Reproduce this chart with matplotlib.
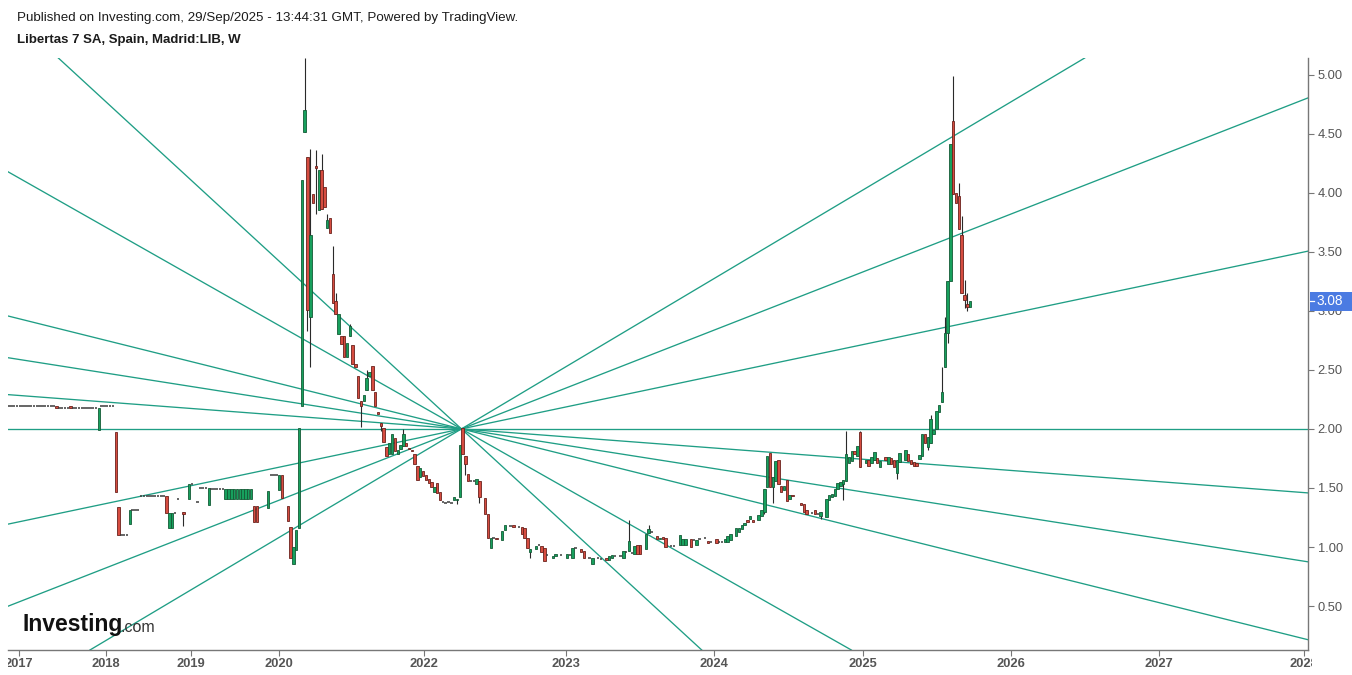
import matplotlib
matplotlib.use("Agg")
import matplotlib.pyplot as plt
from matplotlib.transforms import Bbox, blended_transform_factory
from matplotlib.patches import Rectangle

# ---------------- data (weekly bars, x = bar index as on the TradingView axis) ----------------
# (bar index, open, high, low, close)
candles_2017_2019 = [
    (0, 2.197, 2.197, 2.197, 2.197), (1, 2.197, 2.197, 2.197, 2.197), (2, 2.197, 2.197, 2.197, 2.197),
    (3, 2.197, 2.197, 2.197, 2.197), (4, 2.197, 2.197, 2.197, 2.197), (5, 2.197, 2.197, 2.197, 2.197),
    (6, 2.197, 2.197, 2.197, 2.197), (7, 2.197, 2.197, 2.197, 2.197), (8, 2.197, 2.197, 2.197, 2.197),
    (9, 2.197, 2.197, 2.197, 2.197), (10, 2.197, 2.197, 2.197, 2.197), (11, 2.197, 2.197, 2.197, 2.197),
    (12, 2.197, 2.197, 2.197, 2.197), (13, 2.197, 2.197, 2.197, 2.197), (14, 2.197, 2.197, 2.197, 2.197),
    (15, 2.197, 2.197, 2.197, 2.197), (16, 2.197, 2.197, 2.197, 2.197), (17, 2.197, 2.197, 2.18, 2.18),
    (18, 2.18, 2.18, 2.18, 2.18), (19, 2.18, 2.18, 2.18, 2.18), (20, 2.18, 2.18, 2.18, 2.18),
    (21, 2.18, 2.18, 2.18, 2.18), (22, 2.197, 2.197, 2.18, 2.18), (23, 2.18, 2.18, 2.18, 2.18),
    (24, 2.18, 2.18, 2.18, 2.18), (25, 2.18, 2.18, 2.18, 2.18), (26, 2.18, 2.18, 2.18, 2.18),
    (27, 2.18, 2.18, 2.18, 2.18), (28, 2.18, 2.18, 2.18, 2.18), (29, 2.18, 2.18, 2.18, 2.18),
    (30, 2.18, 2.18, 2.18, 2.18), (31, 2.18, 2.18, 2.18, 2.18), (32, 1.99, 2.18, 1.99, 2.18),
    (33, 2.197, 2.197, 2.197, 2.197), (34, 2.197, 2.197, 2.197, 2.197), (35, 2.197, 2.197, 2.197, 2.197),
    (36, 2.197, 2.197, 2.197, 2.197), (37, 2.197, 2.197, 2.197, 2.197), (38, 1.975, 1.975, 1.47, 1.47),
    (39, 1.34, 1.34, 1.10, 1.10), (40, 1.10, 1.10, 1.10, 1.10), (41, 1.10, 1.10, 1.10, 1.10),
    (42, 1.10, 1.10, 1.10, 1.10), (43, 1.195, 1.31, 1.195, 1.31), (44, 1.31, 1.31, 1.31, 1.31),
    (45, 1.31, 1.31, 1.31, 1.31), (46, 1.31, 1.31, 1.31, 1.31), (47, 1.43, 1.43, 1.43, 1.43),
    (48, 1.43, 1.43, 1.43, 1.43), (49, 1.43, 1.43, 1.43, 1.43), (50, 1.43, 1.43, 1.43, 1.43),
    (51, 1.43, 1.43, 1.43, 1.43), (52, 1.43, 1.43, 1.43, 1.43), (53, 1.43, 1.43, 1.43, 1.43),
    (54, 1.43, 1.43, 1.43, 1.43), (55, 1.43, 1.43, 1.43, 1.43), (56, 1.43, 1.43, 1.29, 1.29),
    (57, 1.16, 1.29, 1.16, 1.29), (58, 1.16, 1.29, 1.16, 1.29), (59, 1.29, 1.29, 1.29, 1.29),
    (60, 1.41, 1.41, 1.41, 1.41), (62, 1.295, 1.295, 1.18, 1.28), (64, 1.41, 1.53, 1.41, 1.53),
    (65, 1.53, 1.53, 1.53, 1.53), (67, 1.385, 1.385, 1.385, 1.385), (68, 1.50, 1.50, 1.50, 1.50),
    (69, 1.50, 1.50, 1.50, 1.50), (70, 1.50, 1.50, 1.50, 1.50), (71, 1.355, 1.50, 1.355, 1.50),
    (72, 1.49, 1.49, 1.49, 1.49), (73, 1.49, 1.49, 1.49, 1.49), (74, 1.49, 1.49, 1.49, 1.49),
    (75, 1.49, 1.49, 1.49, 1.49), (76, 1.49, 1.49, 1.49, 1.49), (77, 1.41, 1.49, 1.41, 1.49),
    (78, 1.41, 1.49, 1.41, 1.49), (79, 1.41, 1.49, 1.41, 1.49), (80, 1.41, 1.49, 1.41, 1.49),
    (81, 1.41, 1.49, 1.41, 1.49), (82, 1.41, 1.49, 1.41, 1.49), (83, 1.41, 1.49, 1.41, 1.49),
    (84, 1.41, 1.49, 1.41, 1.49), (85, 1.41, 1.49, 1.41, 1.49), (86, 1.41, 1.49, 1.41, 1.49),
    (87, 1.35, 1.35, 1.215, 1.215), (88, 1.35, 1.35, 1.215, 1.215), (92, 1.33, 1.475, 1.33, 1.475),
    (93, 1.61, 1.61, 1.61, 1.61), (94, 1.61, 1.61, 1.61, 1.61), (95, 1.61, 1.61, 1.61, 1.61),
    (96, 1.48, 1.61, 1.48, 1.61), (97, 1.61, 1.61, 1.415, 1.415), (99, 1.35, 1.35, 1.22, 1.22),
]

candles_2020_2021 = [
    (100, 1.17, 1.17, 0.91, 0.91), (101, 0.86, 1.00, 0.86, 1.00), (102, 0.975, 1.14, 0.975, 1.14),
    (103, 1.16, 2.01, 1.16, 2.01), (104, 2.19, 4.11, 2.19, 4.11), (105, 4.51, 5.14, 4.51, 4.70),
    (106, 4.30, 4.30, 2.83, 3.01), (107, 2.95, 4.37, 2.52, 3.64), (108, 3.99, 3.99, 3.91, 3.91),
    (109, 4.23, 4.36, 3.82, 4.21), (110, 3.85, 4.19, 3.85, 4.19), (111, 4.19, 4.33, 3.86, 3.86),
    (112, 4.05, 4.05, 3.88, 3.88), (113, 3.70, 3.82, 3.70, 3.77), (114, 3.79, 3.79, 3.66, 3.66),
    (115, 3.31, 3.55, 3.07, 3.07), (116, 3.08, 3.15, 2.97, 2.97), (117, 2.80, 2.97, 2.80, 2.97),
    (118, 2.79, 2.79, 2.72, 2.72), (119, 2.79, 2.79, 2.61, 2.61), (120, 2.61, 2.73, 2.61, 2.73),
    (121, 2.79, 2.89, 2.79, 2.87), (122, 2.71, 2.71, 2.55, 2.55), (123, 2.55, 2.55, 2.52, 2.52),
    (124, 2.45, 2.45, 2.26, 2.26), (125, 2.24, 2.24, 2.02, 2.19), (126, 2.24, 2.29, 2.24, 2.29),
    (127, 2.33, 2.50, 2.33, 2.43), (128, 2.45, 2.48, 2.45, 2.48), (129, 2.53, 2.53, 2.33, 2.33),
    (130, 2.31, 2.31, 2.19, 2.19), (131, 2.14, 2.14, 2.13, 2.13), (132, 2.05, 2.05, 1.98, 2.025),
    (133, 2.01, 2.01, 1.89, 1.89), (134, 1.85, 1.85, 1.77, 1.77), (135, 1.79, 1.88, 1.79, 1.88),
    (136, 1.79, 1.96, 1.79, 1.96), (137, 1.92, 1.92, 1.81, 1.81), (138, 1.79, 1.82, 1.79, 1.82),
    (139, 1.83, 1.86, 1.83, 1.86), (140, 1.855, 2.00, 1.855, 1.96), (141, 1.88, 1.88, 1.855, 1.855),
    (142, 1.84, 1.84, 1.83, 1.83), (143, 1.82, 1.82, 1.81, 1.81), (144, 1.79, 1.79, 1.70, 1.70),
    (145, 1.69, 1.69, 1.57, 1.57), (146, 1.59, 1.67, 1.59, 1.67), (147, 1.64, 1.64, 1.60, 1.60),
    (148, 1.61, 1.61, 1.57, 1.57), (149, 1.58, 1.58, 1.54, 1.54), (150, 1.55, 1.55, 1.51, 1.51),
    (151, 1.47, 1.51, 1.47, 1.51), (152, 1.54, 1.54, 1.46, 1.46), (153, 1.47, 1.47, 1.40, 1.40),
    (154, 1.38, 1.38, 1.38, 1.38), (155, 1.37, 1.37, 1.37, 1.37), (156, 1.38, 1.38, 1.38, 1.38),
    (157, 1.37, 1.37, 1.37, 1.37), (158, 1.40, 1.42, 1.40, 1.42), (159, 1.40, 1.41, 1.36, 1.41),
    (160, 1.42, 1.86, 1.42, 1.86), (161, 2.01, 2.01, 1.79, 1.79),
]

candles_2022_2025 = [
    (162, 1.77, 1.77, 1.61, 1.70), (163, 1.62, 1.62, 1.56, 1.56), (164, 1.56, 1.56, 1.56, 1.56),
    (165, 1.56, 1.56, 1.56, 1.56), (166, 1.53, 1.575, 1.53, 1.575), (167, 1.56, 1.56, 1.37, 1.425),
    (169, 1.415, 1.415, 1.28, 1.28), (170, 1.28, 1.28, 1.08, 1.08), (171, 0.99, 1.08, 0.99, 1.08),
    (172, 1.08, 1.08, 1.08, 1.08), (173, 1.08, 1.08, 1.07, 1.07), (175, 1.06, 1.135, 1.06, 1.135),
    (176, 1.145, 1.19, 1.145, 1.19), (178, 1.18, 1.18, 1.18, 1.18), (179, 1.185, 1.185, 1.17, 1.17),
    (181, 1.17, 1.17, 1.17, 1.17), (182, 1.17, 1.17, 1.11, 1.11), (183, 1.16, 1.16, 1.08, 1.08),
    (184, 1.08, 1.08, 0.99, 0.99), (185, 0.96, 0.98, 0.91, 0.98), (187, 0.98, 1.01, 0.98, 1.01),
    (188, 1.02, 1.02, 1.02, 1.02), (189, 1.01, 1.01, 0.96, 0.96), (190, 0.99, 0.99, 0.88, 0.88),
    (191, 0.93, 0.93, 0.93, 0.93), (193, 0.905, 0.92, 0.905, 0.92), (194, 0.92, 0.94, 0.92, 0.94),
    (196, 0.93, 0.93, 0.93, 0.93), (198, 0.91, 0.945, 0.91, 0.945), (199, 0.93, 0.93, 0.93, 0.93),
    (200, 0.91, 0.99, 0.91, 0.99), (201, 0.99, 0.99, 0.99, 0.99), (203, 0.98, 0.98, 0.96, 0.96),
    (204, 0.965, 0.965, 0.91, 0.91), (206, 0.91, 0.91, 0.91, 0.91), (207, 0.86, 0.91, 0.86, 0.91),
    (209, 0.905, 0.905, 0.905, 0.905), (210, 0.90, 0.90, 0.90, 0.90), (212, 0.905, 0.905, 0.89, 0.89),
    (213, 0.89, 0.92, 0.89, 0.92), (214, 0.91, 0.93, 0.91, 0.93), (215, 0.92, 0.92, 0.92, 0.92),
    (217, 0.92, 0.92, 0.92, 0.92), (218, 0.91, 0.965, 0.91, 0.965), (219, 0.96, 0.96, 0.96, 0.96),
    (220, 0.965, 1.23, 0.965, 1.05), (221, 0.95, 0.95, 0.95, 0.95), (222, 0.94, 1.01, 0.94, 1.01),
    (223, 1.02, 1.02, 0.94, 0.94), (224, 1.02, 1.02, 0.94, 0.94), (226, 0.98, 1.11, 0.98, 1.11),
    (227, 1.12, 1.19, 1.12, 1.15), (228, 1.13, 1.13, 1.13, 1.13), (230, 1.09, 1.09, 1.07, 1.07),
    (231, 1.065, 1.075, 1.065, 1.075), (232, 1.085, 1.085, 1.07, 1.07), (233, 1.075, 1.075, 1.00, 1.00),
    (235, 1.01, 1.01, 1.01, 1.01), (236, 1.01, 1.01, 1.01, 1.01), (238, 1.02, 1.10, 1.02, 1.10),
    (239, 1.02, 1.07, 1.02, 1.07), (240, 1.02, 1.065, 1.02, 1.065), (242, 1.065, 1.065, 1.00, 1.00),
    (243, 1.06, 1.06, 1.06, 1.06), (244, 1.02, 1.06, 1.02, 1.06), (245, 1.07, 1.07, 1.07, 1.07),
    (247, 1.075, 1.075, 1.075, 1.075), (248, 1.05, 1.05, 1.03, 1.03), (249, 1.04, 1.04, 1.04, 1.04),
    (251, 1.07, 1.07, 1.03, 1.03), (252, 1.04, 1.04, 1.04, 1.04), (253, 1.04, 1.04, 1.04, 1.04),
    (254, 1.04, 1.07, 1.04, 1.07), (255, 1.04, 1.095, 1.04, 1.095), (256, 1.06, 1.11, 1.06, 1.11),
    (258, 1.095, 1.16, 1.095, 1.16), (259, 1.13, 1.165, 1.13, 1.165), (260, 1.15, 1.185, 1.15, 1.185),
    (261, 1.19, 1.20, 1.19, 1.20), (262, 1.225, 1.225, 1.215, 1.215), (263, 1.24, 1.26, 1.24, 1.26),
    (264, 1.225, 1.225, 1.215, 1.215), (266, 1.23, 1.27, 1.23, 1.27), (267, 1.26, 1.31, 1.26, 1.31),
    (268, 1.30, 1.49, 1.28, 1.49), (269, 1.51, 1.77, 1.51, 1.77), (270, 1.80, 1.80, 1.51, 1.51),
    (271, 1.51, 1.59, 1.37, 1.59), (272, 1.56, 1.73, 1.56, 1.73), (273, 1.74, 1.74, 1.53, 1.53),
    (274, 1.52, 1.52, 1.47, 1.47), (275, 1.48, 1.52, 1.48, 1.52), (276, 1.57, 1.57, 1.39, 1.39),
    (277, 1.41, 1.44, 1.41, 1.44), (278, 1.44, 1.44, 1.43, 1.43), (281, 1.37, 1.37, 1.355, 1.355),
    (282, 1.365, 1.365, 1.30, 1.30), (283, 1.31, 1.31, 1.28, 1.28), (285, 1.29, 1.29, 1.29, 1.29),
    (286, 1.31, 1.31, 1.28, 1.28), (287, 1.28, 1.28, 1.28, 1.28), (288, 1.26, 1.30, 1.235, 1.30),
    (290, 1.25, 1.41, 1.25, 1.41), (291, 1.40, 1.44, 1.40, 1.44), (292, 1.42, 1.45, 1.42, 1.45),
    (293, 1.43, 1.49, 1.43, 1.49), (294, 1.49, 1.54, 1.49, 1.54), (295, 1.52, 1.55, 1.52, 1.55),
    (296, 1.53, 1.57, 1.40, 1.57), (297, 1.56, 1.98, 1.56, 1.79), (298, 1.71, 1.765, 1.71, 1.765),
    (299, 1.73, 1.81, 1.73, 1.81), (300, 1.815, 1.815, 1.79, 1.79), (301, 1.77, 1.855, 1.77, 1.855),
    (302, 1.97, 1.98, 1.68, 1.68), (304, 1.71, 1.74, 1.71, 1.74), (305, 1.74, 1.74, 1.69, 1.69),
    (306, 1.714, 1.765, 1.714, 1.765), (307, 1.737, 1.807, 1.737, 1.807), (308, 1.75, 1.75, 1.71, 1.71),
    (309, 1.68, 1.73, 1.68, 1.73), (311, 1.765, 1.765, 1.74, 1.74), (312, 1.70, 1.765, 1.70, 1.765),
    (313, 1.75, 1.75, 1.70, 1.70), (314, 1.74, 1.74, 1.68, 1.68), (315, 1.63, 1.74, 1.58, 1.74),
    (316, 1.72, 1.80, 1.72, 1.80), (318, 1.74, 1.82, 1.74, 1.82), (319, 1.79, 1.79, 1.73, 1.73),
    (320, 1.74, 1.74, 1.70, 1.70), (321, 1.72, 1.72, 1.69, 1.69), (322, 1.71, 1.71, 1.69, 1.69),
    (323, 1.745, 1.78, 1.745, 1.78), (324, 1.77, 1.96, 1.77, 1.96), (325, 1.96, 1.96, 1.88, 1.88),
    (326, 1.85, 1.93, 1.82, 1.93), (327, 1.88, 2.12, 1.88, 2.08), (328, 1.96, 1.99, 1.96, 1.99),
    (329, 2.00, 2.15, 2.00, 2.15), (330, 2.145, 2.20, 2.145, 2.20), (331, 2.23, 2.52, 2.23, 2.31),
    (332, 2.52, 2.95, 2.52, 2.81), (333, 2.81, 3.25, 2.73, 3.25), (334, 3.25, 4.41, 3.25, 4.41),
    (335, 4.61, 4.99, 3.99, 3.99), (336, 4.00, 4.00, 3.915, 3.915), (337, 3.97, 4.08, 3.69, 3.69),
    (338, 3.64, 3.80, 3.15, 3.15), (339, 3.13, 3.26, 3.02, 3.09), (340, 3.06, 3.15, 3.00, 3.03),
    (341, 3.03, 3.08, 3.03, 3.08),
]

year_tick_pos = [3.6, 34.6, 64.7, 95.9, 147.3, 197.7, 250.2, 303.0, 355.5, 408.0, 459.5]
year_tick_labels = ["2017", "2018", "2019", "2020", "2022", "2023", "2024", "2025", "2026", "2027", "2028"]
price_ticks = [0.50, 1.00, 1.50, 2.00, 2.50, 3.00, 3.50, 4.00, 4.50, 5.00]
last_price = 3.08

# fan drawn from one anchor bar: (bar index, price) and slopes in price per bar
fan_anchor = (160.6, 2.00)
fan_slopes = [0.0, -0.001805, -0.003749, -0.005946, -0.01354, -0.02197, 0.01421, 0.009336, 0.005014]

# ---------------- styling ----------------
GREEN, GREEN_EDGE = "#17a05d", "#135a36"
RED, RED_EDGE = "#d64c40", "#6a211c"
FLAT = "#3c3c3c"
WICK = "#2a2a2a"
FAN = "#1f9e85"
AXIS_TXT = "#555555"
LABEL_BLUE = "#4b7be2"

W, H = 1352, 675
fig = plt.figure(figsize=(W / 100, H / 100), dpi=100)
fig.patch.set_facecolor("white")
ax = fig.add_axes([8 / W, (H - 650) / H, (1308 - 8) / W, (650 - 58) / H])
ax.set_facecolor("white")
ax.set_xlim(-0.2, 460.8)
ax.set_ylim(0.128, 5.1405)

# fan lines
for s in fan_slopes:
    ax.axline(fan_anchor, slope=s, color=FAN, lw=0.95, zorder=2)

# candles
body_w = 0.86
for seg in (candles_2017_2019, candles_2020_2021, candles_2022_2025):
    for i, o, h, l, c in seg:
        if c > o:
            fc, ec = GREEN, GREEN_EDGE
        elif c < o:
            fc, ec = RED, RED_EDGE
        else:
            fc = ec = None
        if h > max(o, c) or l < min(o, c):
            ax.vlines(i, l, h, color=WICK, lw=0.8, zorder=3)
        if fc is None:
            ax.hlines(o, i - body_w / 2, i + body_w / 2, color=FLAT, lw=1.1, zorder=4)
        else:
            ax.bar(i, abs(c - o), bottom=min(o, c), width=body_w, color=fc,
                   edgecolor=ec, linewidth=0.6, zorder=4)

# axes styling
for side in ("left", "top"):
    ax.spines[side].set_visible(False)
for side in ("right", "bottom"):
    ax.spines[side].set_color("#777777")
    ax.spines[side].set_linewidth(1.0)

ax.yaxis.tick_right()
ax.set_yticks(price_ticks)
ax.set_yticklabels([f"{p:.2f}" for p in price_ticks])
ax.tick_params(axis="y", direction="out", length=4, width=0.8, color="#777777",
               labelsize=9.3, labelcolor=AXIS_TXT, pad=3)
ax.set_xticks(year_tick_pos)
ax.set_xticklabels(year_tick_labels)
ax.tick_params(axis="x", direction="out", length=4, width=0.8, color="#777777",
               labelsize=9.3, labelcolor=AXIS_TXT, pad=2)
for lab in ax.get_yticklabels():
    lab.set_fontfamily("Liberation Sans")
clip = Bbox.from_extents(8, 0, 1312, H)
for lab in ax.get_xticklabels():
    lab.set_fontfamily("Liberation Sans")
    lab.set_fontweight("bold")
    lab.set_clip_box(clip)
    lab.set_clip_on(True)

# last price label: blue tag on the price scale
tag_tf = blended_transform_factory(ax.transAxes, ax.transData)
half_h = 9.5 / 118.1  # half of ~19 px in price units
ax.add_patch(Rectangle((1.0012, last_price - half_h), 0.036, 2 * half_h, transform=tag_tf,
                       facecolor=LABEL_BLUE, edgecolor="none", clip_on=False, zorder=10))
ax.plot([1.0012, 1.0045], [last_price, last_price], transform=tag_tf, color="white",
        lw=0.9, clip_on=False, zorder=11)
ax.text(1.0062, last_price, f"{last_price:.2f}", transform=tag_tf, ha="left", va="center",
        fontsize=9.8, color="white", family="Liberation Sans", clip_on=False, zorder=12)

# header texts
fig.text(17 / W, 1 - 18 / H, "Published on Investing.com, 29/Sep/2025 - 13:44:31 GMT, Powered by TradingView.",
         ha="left", va="center", fontsize=9.6, color="#1c1c1c", family="Liberation Sans")
fig.text(17 / W, 1 - 40 / H, "Libertas 7 SA, Spain, Madrid:LIB, W",
         ha="left", va="center", fontsize=9.5, fontweight="bold", color="#1c1c1c",
         family="Liberation Sans")

# logo
fig.text(22 / W, 1 - 624 / H, "Investing", ha="left", va="center", fontsize=16.5,
         fontweight="bold", color="#111111", family="Liberation Sans")
fig.text(121 / W, 1 - 627 / H, ".com", ha="left", va="center", fontsize=11.5,
         color="#333333", family="Liberation Sans")

fig.savefig("out.png", dpi=100)
